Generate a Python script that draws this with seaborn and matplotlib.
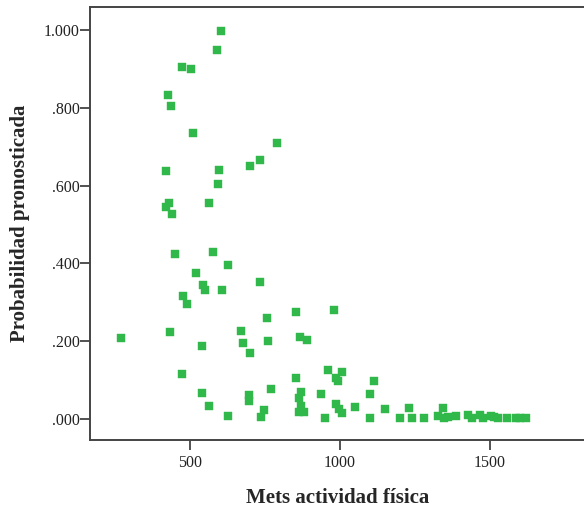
import numpy as np
import pandas as pd
import matplotlib
matplotlib.use("Agg")
import matplotlib.pyplot as plt
import seaborn as sns
from matplotlib.ticker import FuncFormatter

# Werte
mets = [602, 591, 474, 502, 428, 438, 511, 791, 733, 700,
        421, 598, 594, 564, 429, 420, 441, 451, 577, 628,
        521, 544, 550, 607, 733, 478, 491, 758, 854, 979,
        271, 433, 669, 541, 676, 761, 700, 867, 891, 472,
        852, 959, 986, 992, 1006, 1113, 540, 696, 696, 769,
        869, 862, 938, 1100, 563, 628, 736, 747, 869, 862,
        880, 949, 987, 998, 1007, 1049, 1100, 1151, 1199, 1241,
        1230, 1280, 1342, 1326, 1348, 1361, 1386, 1428, 1439, 1467,
        1476, 1503, 1514, 1528, 1558, 1587, 1600, 1620]
prob = [0.997, 0.949, 0.906, 0.899, 0.833, 0.805, 0.736, 0.709, 0.665, 0.651,
        0.638, 0.639, 0.604, 0.555, 0.556, 0.544, 0.526, 0.425, 0.430, 0.396,
        0.375, 0.345, 0.332, 0.332, 0.351, 0.316, 0.296, 0.260, 0.274, 0.279,
        0.208, 0.224, 0.226, 0.188, 0.195, 0.201, 0.170, 0.210, 0.202, 0.115,
        0.106, 0.126, 0.105, 0.098, 0.121, 0.098, 0.066, 0.062, 0.046, 0.078,
        0.070, 0.055, 0.065, 0.064, 0.033, 0.008, 0.005, 0.023, 0.034, 0.019,
        0.019, 0.002, 0.039, 0.026, 0.016, 0.032, 0.003, 0.025, 0.003, 0.003,
        0.029, 0.003, 0.028, 0.008, 0.003, 0.006, 0.008, 0.010, 0.003, 0.010,
        0.002, 0.008, 0.006, 0.003, 0.003, 0.003, 0.003, 0.003]
x_ticks = [500, 1000, 1500]
y_ticks = [0.0, 0.2, 0.4, 0.6, 0.8, 1.0]

df = pd.DataFrame({"Mets actividad física": mets, "Probabilidad pronosticada": prob})

sns.set_style("ticks")
plt.rcParams["font.family"] = ["Liberation Serif", "DejaVu Serif"]

fig = plt.figure(figsize=(5.84, 5.14), dpi=100)
ax = fig.add_axes([90 / 584, 74 / 514, 496 / 584, 433 / 514])

sns.scatterplot(data=df, x="Mets actividad física", y="Probabilidad pronosticada",
                marker="s", s=30, color="#30b84b", edgecolor="#30b84b",
                linewidth=0.3, ax=ax, legend=False)

ax.set_xlim(167, 1820)
ax.set_ylim(-0.054, 1.059)
ax.set_xticks(x_ticks)
ax.set_yticks(y_ticks)


def fmt_prob(v, pos):
    s = f"{v:.3f}"
    return s[1:] if s.startswith("0") else s


ax.yaxis.set_major_formatter(FuncFormatter(fmt_prob))
ax.tick_params(axis="both", direction="out", length=7, width=1.2,
               color="#333333", labelsize=11.5, labelcolor="#222222")
ax.tick_params(axis="y", pad=0.5)
ax.tick_params(axis="x", pad=4)

for side in ["left", "bottom", "top"]:
    ax.spines[side].set_color("#444444")
    ax.spines[side].set_linewidth(1.4)
ax.spines["right"].set_visible(False)

ax.set_xlabel("Mets actividad física", fontsize=15, fontweight="bold", labelpad=12)
ax.set_ylabel("Probabilidad pronosticada", fontsize=15, fontweight="bold", labelpad=10)

fig.savefig("out.png", dpi=100)
